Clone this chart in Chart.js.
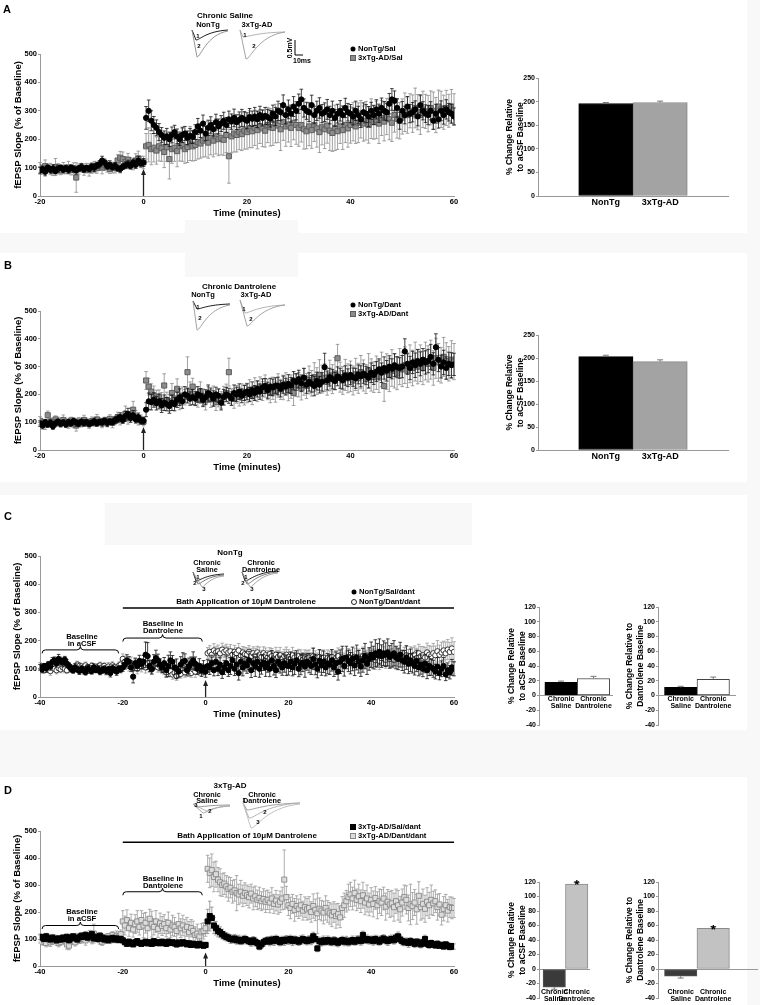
<!DOCTYPE html>
<html>
<head>
<meta charset="utf-8">
<script src="https://cdn.jsdelivr.net/npm/chart.js@4.4.1/dist/chart.umd.min.js"></script>
<style>
  body { margin: 0; background: #fff; }
  #page { position: relative; width: 760px; height: 1005px; overflow: hidden;
          font-family: "Liberation Sans", Arial, sans-serif; font-weight: bold; color: #000; }
  canvas { position: absolute; }
  .t { position: absolute; white-space: nowrap; line-height: 1; }
  .bg { position: absolute; background: #f8f8f8; }
  .mk { position: absolute; box-sizing: border-box; transform: translate(-50%, -50%); }
</style>
</head>
<body>
<div id="page">
  <div class="bg" style="left:747px;top:0;width:13px;height:1005px"></div>
  <div class="bg" style="left:0;top:233px;width:747px;height:20px"></div>
  <div class="bg" style="left:185px;top:220px;width:113px;height:57px"></div>
  <div class="bg" style="left:0;top:482px;width:747px;height:13px"></div>
  <div class="bg" style="left:105px;top:503px;width:367px;height:42px"></div>
  <div class="bg" style="left:0;top:730px;width:747px;height:47px"></div>

  <canvas id="ov" width="760" height="1005" style="left:0;top:0"></canvas>

  <canvas id="cA" width="458" height="218" style="left:14px;top:0px"></canvas>
  <canvas id="cB" width="458" height="242" style="left:14px;top:230px"></canvas>
  <canvas id="cC" width="459" height="219" style="left:13px;top:500px"></canvas>
  <canvas id="cD" width="459" height="208" style="left:13px;top:780px"></canvas>

  <canvas id="bA" width="232" height="152" style="left:500px;top:60px"></canvas>
  <canvas id="bB" width="232" height="149" style="left:500px;top:317px"></canvas>
  <canvas id="bC1" width="116" height="134" style="left:500px;top:597px"></canvas>
  <canvas id="bC2" width="121" height="134" style="left:618px;top:597px"></canvas>
  <canvas id="bD1" width="116" height="132" style="left:500px;top:872px"></canvas>
  <canvas id="bD2" width="143" height="132" style="left:618px;top:872px"></canvas>
</div>
<script>
// sampling: one point every 0.5 min
const stepMin = 0.5;
const startAB = -20;
const startCD = -40;

// ---- Panel A: chronic saline ----
const nonTgSal = [
  90,95,85,100,92,97,88,96,100,93,
  98,92,100,95,90,97,102,94,99,96,
  104,100,108,112,125,118,105,110,102,106,
  98,95,103,108,112,106,118,110,125,115,
  118,
  275,300,265,250,240,225,215,205,210,
  200,215,225,210,200,215,220,205,212,208,
  225,245,230,255,220,240,250,235,260,245,
  255,265,250,270,262,275,260,268,275,270,
  265,278,272,280,270,285,275,282,278,272,
  290,280,300,295,320,285,305,290,315,300,
  325,340,310,300,295,320,285,300,310,290,
  295,305,285,300,275,290,300,285,310,295,
  290,280,300,285,270,295,290,280,300,285,
  305,290,310,300,295,325,340,335,310,265,
  300,285,315,290,295,305,280,320,300,290,
  285,300,265,290,270,300,285,305,295,290,
  280];
const nonTgSalErr = [
  12,10,14,9,11,13,10,12,9,11,
  10,12,9,11,13,10,12,11,9,10,
  12,14,11,13,15,12,11,14,10,12,
  11,13,10,12,14,11,12,13,15,12,
  14,
  40,38,35,30,28,30,26,24,28,
  25,28,24,26,22,27,25,24,26,23,
  26,28,24,30,25,27,29,24,28,26,
  28,30,26,29,27,31,26,28,30,27,
  28,30,27,32,29,31,28,30,27,29,
  30,32,34,30,36,31,33,30,35,32,
  34,36,32,30,33,35,31,34,36,32,
  33,35,31,34,30,33,36,32,34,31,
  32,30,34,31,29,33,32,35,30,33,
  34,31,35,33,30,36,38,35,33,30,
  33,31,35,32,34,30,33,36,32,31,
  34,32,30,33,31,35,32,34,31,33,
  30];
const tgSal = [
  100,92,105,98,95,88,102,96,90,98,
  94,100,92,97,65,95,100,93,98,92,
  96,102,98,105,100,108,104,95,100,98,
  125,135,130,120,128,115,110,125,132,120,
  118,
  175,180,165,170,160,175,168,155,172,
  130,165,170,158,175,180,165,172,185,175,
  180,190,185,195,200,188,205,195,210,200,
  205,198,215,140,210,220,215,225,218,230,
  225,235,228,240,232,245,238,230,250,242,
  240,255,248,235,260,245,252,240,258,250,
  240,250,235,228,245,232,250,238,225,242,
  235,248,230,222,240,228,245,232,250,238,
  250,262,245,258,270,255,265,250,272,260,
  268,255,275,262,280,270,258,285,272,265,
  280,295,285,300,290,310,295,285,305,298,
  290,310,300,285,315,305,295,310,300,315,
  305];
const tgSalErr = [
  18,15,22,14,20,16,30,18,15,20,
  16,22,18,20,52,18,15,20,17,22,
  16,20,18,15,22,18,20,16,19,17,
  20,22,25,18,22,20,18,24,26,20,
  22,
  45,60,55,50,48,52,46,55,50,
  70,50,48,55,52,58,50,54,60,52,
  55,60,52,58,62,55,60,57,62,58,
  60,55,62,95,58,65,60,62,58,65,
  60,65,58,62,66,60,64,58,62,66,
  62,68,60,75,64,70,62,66,60,68,
  65,60,70,62,68,64,58,66,72,62,
  68,62,70,65,80,64,60,68,62,66,
  64,68,60,70,66,62,68,64,70,60,
  66,70,62,68,64,72,66,60,68,64,
  62,68,64,60,66,70,62,68,64,60,
  64,60,66,62,58,64,60,62,58,60,
  55];

// ---- Panel B: chronic dantrolene ----
const nonTgDant = [
  95,88,100,92,98,85,96,102,94,99,
  92,100,96,104,98,95,102,97,100,94,
  98,103,96,101,99,105,97,102,100,108,
  112,118,108,122,130,115,125,110,118,105,
  105,
  145,175,172,180,168,175,160,170,165,
  158,170,165,180,190,175,200,195,185,190,
  185,200,195,180,190,205,198,185,200,195,
  170,190,200,195,185,205,200,210,195,205,
  210,200,215,205,220,210,225,230,215,228,
  225,232,230,220,235,228,238,232,250,245,
  255,240,260,235,245,238,230,248,235,245,
  298,250,262,255,248,265,258,252,268,260,
  270,262,258,272,265,275,268,260,278,270,
  282,290,278,295,285,300,292,305,298,295,
  300,355,310,295,315,305,320,310,325,315,
  320,335,310,370,325,300,315,295,310,305,
  308];
const nonTgDantErr = [
  10,12,9,11,13,10,12,9,11,10,
  11,9,12,10,13,11,9,12,10,11,
  10,12,11,9,13,10,12,11,10,12,
  14,16,12,18,20,15,17,13,15,12,
  12,
  25,30,28,26,24,27,25,28,24,
  26,28,24,27,30,25,28,26,24,27,
  25,28,26,24,27,29,25,28,26,24,
  26,28,25,27,24,29,26,28,25,27,
  28,26,30,27,29,28,31,27,29,30,
  30,28,32,29,31,30,33,29,32,30,
  32,30,34,31,33,30,35,32,30,33,
  50,34,32,35,31,34,36,33,35,32,
  35,33,36,34,38,35,33,37,35,34,
  36,38,35,40,37,39,36,41,38,37,
  40,45,38,42,40,44,41,43,40,42,
  42,45,40,48,43,41,44,40,42,45,
  40];
const tgDant = [
  105,98,92,125,100,95,110,102,96,108,
  100,94,106,98,88,102,96,108,100,94,
  104,98,110,102,96,106,100,112,98,105,
  118,110,112,130,115,125,145,120,108,110,
  102,
  250,228,210,195,185,190,175,232,180,
  170,205,185,220,175,195,190,280,210,228,
  195,182,210,190,178,200,185,195,172,188,
  180,195,205,280,190,185,200,192,208,198,
  205,215,195,220,210,225,212,230,218,205,
  222,210,232,218,225,238,215,228,205,232,
  235,222,245,230,252,240,262,248,270,255,
  260,245,268,255,275,330,262,250,270,258,
  265,250,272,258,280,268,255,285,270,262,
  278,265,290,230,282,270,295,285,275,300,
  290,305,285,310,295,318,300,312,295,320,
  310,325,295,330,315,305,335,320,310,325,
  318];
const tgDantErr = [
  15,12,18,15,14,20,13,16,12,18,
  14,16,12,18,20,15,13,17,14,16,
  15,13,18,14,16,12,17,15,18,14,
  18,20,16,28,22,25,30,22,18,16,
  15,
  32,30,28,35,30,26,32,42,28,
  30,34,28,36,30,32,28,55,35,30,
  32,28,35,30,34,28,32,35,30,33,
  30,34,32,50,30,35,32,34,30,36,
  35,38,32,40,36,38,34,40,37,35,
  40,38,42,36,44,40,38,42,45,40,
  44,42,48,45,50,46,52,48,55,50,
  50,48,55,52,58,50,54,50,56,52,
  55,52,58,54,60,56,52,62,58,55,
  60,58,62,55,64,60,66,62,58,65,
  62,66,60,68,64,70,62,66,60,68,
  65,70,62,72,68,64,70,66,62,68,
  65];

// ---- Panel C: NonTg, bath dantrolene ----
const nonTgSalDant = [
  105,98,110,102,115,108,125,130,120,135,
  128,122,132,118,110,100,95,105,98,92,
  100,95,88,102,98,92,105,96,100,90,
  95,100,92,98,85,102,96,90,100,98,
  105,
  115,130,125,105,72,120,110,128,118,
  125,150,145,110,100,125,138,130,115,105,
  120,95,110,130,125,105,100,90,115,125,
  128,95,110,120,130,118,100,110,95,105,
  90,
  110,105,120,95,125,100,115,88,105,
  120,95,110,130,100,115,85,125,105,118,
  112,130,95,120,108,125,100,115,122,105,
  118,100,130,110,95,125,115,105,120,112,
  110,125,105,118,130,100,115,122,108,125,
  120,110,135,115,100,128,112,125,105,118,
  115,130,105,120,90,125,135,110,140,128,
  120,135,112,140,125,108,130,145,118,135,
  150,140,155,148,160,145,155,150,158,142,
  148,155,140,135,150,130,125,140,118,130,
  120,110,128,105,115,100,118,95,110,105,
  100,90,108,85,100,110,80,95,88,105,
  100];
const nonTgSalDantErr = [
  10,12,9,14,11,13,15,12,14,16,
  13,15,12,14,10,12,11,13,10,12,
  11,13,10,12,14,11,13,10,12,11,
  12,10,13,11,14,12,10,13,11,12,
  14,
  16,20,18,15,22,18,16,20,17,
  22,45,48,20,18,25,28,22,20,18,
  20,24,38,30,22,26,35,20,28,32,
  25,20,28,22,30,24,20,26,22,24,
  20,
  22,25,28,20,30,24,26,22,25,
  26,22,30,28,24,32,25,28,30,26,
  28,32,26,30,35,28,30,34,28,32,
  30,28,35,32,26,34,30,28,32,36,
  32,35,30,38,34,28,36,32,38,30,
  34,30,38,36,32,40,35,38,30,36,
  35,38,32,40,30,42,45,36,40,38,
  38,42,36,44,40,35,42,45,38,40,
  45,40,48,42,46,40,44,42,48,40,
  42,45,40,38,44,36,40,42,35,40,
  35,32,38,30,34,28,32,30,34,28,
  30,26,32,24,28,30,22,26,24,28,
  25];
const nonTgDantDant = [
  110,100,95,105,98,92,108,100,95,102,
  98,105,100,95,110,102,98,105,115,110,
  108,102,112,105,98,110,104,100,108,112,
  105,110,102,108,100,112,105,98,110,115,
  135,
  125,118,110,120,105,115,100,112,108,
  115,105,120,110,98,112,118,105,110,100,
  95,88,100,92,80,85,75,90,82,95,
  88,100,92,85,98,90,105,95,100,92,
  98,
  155,160,150,165,158,162,155,168,160,
  165,158,162,150,160,155,165,148,158,152,
  150,160,145,155,148,158,150,142,155,148,
  140,152,145,138,150,142,148,135,145,150,
  142,135,148,140,130,145,138,132,142,136,
  140,132,145,138,128,142,135,140,130,138,
  135,142,130,138,145,132,140,128,136,142,
  138,130,142,135,140,128,145,132,138,140,
  135,142,130,140,128,138,145,132,140,135,
  140,132,145,138,150,135,142,148,138,145,
  142,150,138,155,145,148,140,158,150,145,
  155,148,162,150,158,165,155,168,160,172,
  160];
const nonTgDantDantErr = [
  12,14,10,13,11,15,12,10,13,11,
  12,10,14,11,13,12,10,14,12,13,
  11,13,12,10,14,12,11,13,10,12,
  13,11,12,14,10,13,12,11,14,12,
  18,
  20,16,18,22,15,20,18,16,19,
  18,20,16,22,18,15,20,17,19,16,
  16,18,15,20,17,19,16,18,15,17,
  18,16,19,15,17,20,16,18,17,15,
  16,
  20,22,18,24,20,22,19,23,21,
  22,20,24,21,23,20,25,22,21,24,
  24,22,26,23,25,22,27,24,23,26,
  25,23,27,24,26,23,28,25,24,27,
  26,24,28,25,27,24,29,26,25,28,
  27,25,29,26,28,25,30,27,26,29,
  28,26,30,27,29,26,31,28,27,30,
  29,27,31,28,30,27,32,29,28,31,
  30,28,32,29,31,28,33,30,29,32,
  31,29,33,30,32,29,34,31,30,33,
  33,31,35,32,34,31,36,33,32,35,
  35,33,38,34,36,33,40,36,34,38,
  36];

// ---- Panel D: 3xTg-AD, bath dantrolene ----
const tgSalDant = [
  108,105,100,110,102,98,105,100,95,102,
  98,105,100,108,96,102,110,104,98,106,
  112,108,115,105,110,118,102,108,100,112,
  105,98,102,95,100,104,98,102,96,100,
  95,
  88,82,90,85,80,88,92,85,82,
  86,90,84,88,82,92,85,88,84,90,
  86,82,90,85,88,84,80,87,83,88,
  85,80,84,78,82,80,76,82,78,75,
  78,
  165,185,178,150,140,130,125,118,112,
  108,105,100,98,102,95,98,92,96,100,
  95,92,88,95,90,85,72,80,88,92,
  95,90,98,92,100,95,88,96,92,98,
  95,100,92,98,94,90,96,100,95,92,
  98,95,110,100,65,92,88,95,90,96,
  92,88,95,90,86,92,96,90,94,88,
  92,96,90,95,98,92,115,96,100,95,
  98,92,100,95,90,98,102,95,92,98,
  100,95,105,110,98,92,88,90,85,92,
  88,82,90,85,80,88,100,82,78,85,
  80,76,82,75,78,72,80,75,70,74,
  72];
const tgSalDantErr = [
  10,12,9,11,13,10,12,9,11,10,
  11,9,12,10,13,11,9,12,10,11,
  12,10,13,11,14,12,10,13,11,12,
  10,12,11,9,13,10,12,11,10,12,
  10,
  9,8,10,9,8,10,9,8,9,
  8,9,10,8,9,8,10,9,8,9,
  9,8,10,9,8,9,10,8,9,8,
  9,8,10,9,8,9,8,10,9,8,
  10,
  45,55,40,30,25,22,20,18,16,
  15,14,16,13,15,14,16,13,15,14,
  14,13,15,14,16,13,12,14,15,13,
  14,15,13,16,14,15,13,14,16,15,
  15,14,16,13,15,14,16,15,13,14,
  14,16,15,14,12,15,14,16,13,15,
  15,13,14,16,15,13,14,15,16,14,
  14,15,13,16,14,15,14,13,15,14,
  13,15,14,16,13,15,14,13,16,14,
  15,14,13,16,14,15,13,14,16,13,
  13,14,12,15,13,12,14,12,13,11,
  11,10,12,10,11,9,10,11,9,10,
  10];
const tgDantDant = [
  100,90,95,85,98,88,92,100,95,85,
  90,100,95,80,75,92,100,88,105,95,
  100,110,95,105,112,98,120,108,102,95,
  90,105,100,110,98,115,105,112,108,118,
  165,
  150,170,140,160,135,155,165,145,170,
  150,160,140,175,155,145,165,138,158,148,
  155,140,160,135,150,145,130,155,140,150,
  135,145,125,140,130,115,120,110,125,130,
  140,
  360,345,355,330,340,320,310,300,305,
  295,285,290,275,280,270,265,275,260,270,
  262,255,268,250,258,245,252,240,248,238,
  245,235,250,230,242,228,238,250,320,255,
  225,215,230,208,222,212,225,205,218,210,
  215,200,222,208,195,212,205,198,215,202,
  195,188,200,185,192,180,215,225,240,255,
  265,250,270,245,258,240,262,235,250,228,
  245,230,252,225,240,235,250,220,238,228,
  232,218,240,225,210,235,255,245,215,228,
  222,235,210,260,218,230,212,238,225,245,
  232,240,218,228,190,212,225,205,218,215,
  215];
const tgDantDantErr = [
  15,12,18,14,10,16,12,15,18,14,
  12,16,14,18,15,12,10,14,16,12,
  15,12,18,14,20,16,35,14,12,15,
  14,12,16,10,15,12,14,18,12,16,
  40,
  35,38,30,32,28,35,40,30,35,
  45,38,42,35,48,30,40,32,38,35,
  35,32,40,30,38,35,32,40,35,38,
  38,35,40,32,36,30,35,28,32,30,
  30,
  50,55,60,55,48,45,50,42,40,
  40,45,38,42,40,65,38,42,40,38,
  38,40,35,42,38,36,40,35,38,40,
  36,38,40,35,38,36,40,42,110,40,
  38,40,35,42,38,36,40,35,38,40,
  42,38,45,40,75,40,38,42,45,40,
  40,42,38,45,40,38,42,45,40,48,
  45,42,48,40,45,42,48,45,50,42,
  45,48,42,50,45,48,42,50,45,48,
  48,52,45,55,48,50,45,52,48,75,
  50,48,55,52,48,55,50,52,48,55,
  45,42,48,40,38,45,40,42,38,40,
  35];

// ---- summary bars ----
const genotypes = ['NonTg', '3xTg-AD'];
const barSal = [196, 198];
const barSalErr = [2, 3];
const barDant = [203, 192];
const barDantErr = [3, 4];
const treatments = [['Chronic', 'Saline'], ['Chronic', 'Dantrolene']];
const nonTgVsAcsf = [18, 23];
const nonTgVsAcsfErr = [1.5, 3];
const nonTgVsDant = [11, 22];
const nonTgVsDantErr = [1.5, 3];
const tgVsAcsf = [-25, 117];
const tgVsAcsfErr = [3, 2.5];
const tgVsDant = [-10, 56];
const tgVsDantErr = [2.5, 2.5];
const tgStars = [false, true];

Chart.defaults.font.family = '"Liberation Sans", Arial, sans-serif';
Chart.defaults.font.weight = 'bold';
Chart.defaults.color = '#000';

const tickFont = { size: 7.5, weight: 'bold', lineHeight: 1 };
const axisFont = { size: 9.5, weight: 'bold', lineHeight: 1 };

function pts(start, vals) {
  return vals.map((v, i) => ({ x: start + i * stepMin, y: v }));
}

function brace(ctx, x1, x2, y) {
  const xm = (x1 + x2) / 2, h = 3.5;
  ctx.beginPath();
  ctx.moveTo(x1, y + h);
  ctx.quadraticCurveTo(x1, y, x1 + h, y);
  ctx.lineTo(xm - h, y);
  ctx.quadraticCurveTo(xm, y, xm, y - h);
  ctx.quadraticCurveTo(xm, y, xm + h, y);
  ctx.lineTo(x2 - h, y);
  ctx.quadraticCurveTo(x2, y, x2, y + h);
  ctx.stroke();
}

// error bars, stimulus arrow, brackets, bath line
const decor = {
  id: 'decor',
  beforeDatasetsDraw(chart, args, o) {
    const ctx = chart.ctx, xs = chart.scales.x, ys = chart.scales.y;
    const x = xs.getPixelForValue(0), y0 = ys.getPixelForValue(0), y1 = ys.getPixelForValue(o.arrowTop);
    ctx.save();
    ctx.strokeStyle = '#222';
    ctx.fillStyle = '#222';
    ctx.lineWidth = 1.3;
    ctx.beginPath(); ctx.moveTo(x, y0); ctx.lineTo(x, y1 + 5); ctx.stroke();
    ctx.beginPath(); ctx.moveTo(x, y1); ctx.lineTo(x - 2.5, y1 + 6); ctx.lineTo(x + 2.5, y1 + 6);
    ctx.closePath(); ctx.fill();
    ctx.restore();
  },
  beforeDatasetDraw(chart, args) {
    const ds = chart.data.datasets[args.index];
    const ctx = chart.ctx, ys = chart.scales.y;
    ctx.save();
    ctx.strokeStyle = ds.errColor;
    ctx.lineWidth = 0.8;
    ctx.beginPath();
    args.meta.data.forEach((p, i) => {
      const v = ds.data[i].y, e = ds.errors[i];
      const hi = ys.getPixelForValue(v + e), lo = ys.getPixelForValue(v - e);
      ctx.moveTo(p.x, hi); ctx.lineTo(p.x, lo);
      ctx.moveTo(p.x - 1.8, hi); ctx.lineTo(p.x + 1.8, hi);
      ctx.moveTo(p.x - 1.8, lo); ctx.lineTo(p.x + 1.8, lo);
    });
    ctx.stroke();
    ctx.restore();
  },
  afterDatasetsDraw(chart, args, o) {
    const ctx = chart.ctx, xs = chart.scales.x, ys = chart.scales.y;
    ctx.save();
    ctx.strokeStyle = '#000';
    if (o.bath) {
      ctx.lineWidth = 1.5;
      ctx.beginPath();
      ctx.moveTo(xs.getPixelForValue(o.bath.from), ys.getPixelForValue(o.bath.at));
      ctx.lineTo(xs.getPixelForValue(o.bath.to), ys.getPixelForValue(o.bath.at));
      ctx.stroke();
    }
    ctx.lineWidth = 1;
    (o.braces || []).forEach(b => {
      brace(ctx, xs.getPixelForValue(b.from), xs.getPixelForValue(b.to), ys.getPixelForValue(b.at));
    });
    ctx.restore();
  }
};

function courseChart(id, xMin, sets, deco) {
  return new Chart(document.getElementById(id), {
    type: 'scatter',
    data: {
      datasets: sets.map(s => ({
        data: pts(xMin, s.vals),
        errors: s.errs,
        errColor: s.errColor,
        pointStyle: s.style,
        pointRadius: s.r,
        pointBackgroundColor: s.fill,
        pointBorderColor: s.line,
        pointBorderWidth: s.bw
      }))
    },
    options: {
      responsive: false,
      animation: false,
      events: [],
      layout: { padding: { top: deco.padTop, right: 18, bottom: 0, left: 0 } },
      plugins: { legend: { display: false }, tooltip: { enabled: false }, decor: deco },
      scales: {
        x: {
          type: 'linear', min: xMin, max: 60,
          afterFit: s => { s.height = 22; },
          grid: { display: false, drawTicks: false },
          border: { color: '#999' },
          ticks: { stepSize: 20, font: tickFont, color: '#000', padding: 2, maxRotation: 0 },
          title: { display: true, text: 'Time (minutes)', font: axisFont, color: '#000', padding: 0 }
        },
        y: {
          min: 0, max: 500,
          afterFit: s => { s.width = deco.yWidth; },
          grid: { drawOnChartArea: false, tickLength: 2, color: '#999' },
          border: { color: '#999' },
          ticks: { stepSize: 100, font: tickFont, color: '#000', padding: 1 },
          title: { display: true, text: 'fEPSP Slope (% of Baseline)', font: axisFont, color: '#000', padding: 0 }
        }
      }
    },
    plugins: [decor]
  });
}

const blackDot = { style: 'circle', r: 2.6, fill: '#000', line: '#000', bw: 1, errColor: '#111' };
const graySq = { style: 'rect', r: 3.6, fill: '#8c8c8c', line: '#5e5e5e', bw: 1, errColor: '#8a8a8a' };
const openDot = { style: 'circle', r: 2.7, fill: '#fff', line: '#222', bw: 0.9, errColor: '#9a9a9a' };
const blackSq = { style: 'rect', r: 3.6, fill: '#000', line: '#000', bw: 1, errColor: '#888' };
const openSq = { style: 'rect', r: 3.6, fill: '#dcdcdc', line: '#888', bw: 0.9, errColor: '#999' };

courseChart('cA', startAB, [
  Object.assign({ vals: nonTgSal, errs: nonTgSalErr }, blackDot),
  Object.assign({ vals: tgSal, errs: tgSalErr }, graySq)
], { padTop: 54, yWidth: 26, arrowTop: 95 });

courseChart('cB', startAB, [
  Object.assign({ vals: nonTgDant, errs: nonTgDantErr }, blackDot),
  Object.assign({ vals: tgDant, errs: tgDantErr }, graySq)
], { padTop: 81, yWidth: 26, arrowTop: 83 });

courseChart('cC', startCD, [
  Object.assign({ vals: nonTgSalDant, errs: nonTgSalDantErr }, blackDot),
  Object.assign({ vals: nonTgDantDant, errs: nonTgDantDantErr }, openDot)
], { padTop: 56, yWidth: 27, arrowTop: 60,
     bath: { from: -20, to: 60, at: 316 },
     braces: [{ from: -39.5, to: -21, at: 167 }, { from: -20, to: -0.8, at: 209 }] });

courseChart('cD', startCD, [
  Object.assign({ vals: tgSalDant, errs: tgSalDantErr }, blackSq),
  Object.assign({ vals: tgDantDant, errs: tgDantDantErr }, openSq)
], { padTop: 51, yWidth: 27, arrowTop: 50,
     bath: { from: -20, to: 60, at: 458 },
     braces: [{ from: -39.5, to: -21, at: 150 }, { from: -20, to: -0.8, at: 275 }] });

// bar error caps and significance stars
const barDecor = {
  id: 'barDecor',
  afterDatasetsDraw(chart) {
    const ctx = chart.ctx, ys = chart.scales.y;
    chart.data.datasets.forEach((ds, di) => {
      chart.getDatasetMeta(di).data.forEach((bar, i) => {
        const v = ds.data[i].y, e = ds.errors[i];
        const tip = ys.getPixelForValue(v + Math.sign(v) * e);
        ctx.save();
        ctx.strokeStyle = '#777';
        ctx.lineWidth = 1;
        ctx.beginPath();
        ctx.moveTo(bar.x, bar.y); ctx.lineTo(bar.x, tip);
        ctx.moveTo(bar.x - 3, tip); ctx.lineTo(bar.x + 3, tip);
        ctx.stroke();
        if (ds.stars[i]) {
          ctx.fillStyle = '#000';
          ctx.font = 'bold 13px "Liberation Sans"';
          ctx.textAlign = 'center';
          ctx.fillText('*', bar.x, tip + 7);
        }
        ctx.restore();
      });
    });
  }
};

function barChart(id, cats, vals, errs, fill, line, o) {
  return new Chart(document.getElementById(id), {
    type: 'bar',
    data: {
      datasets: [{
        data: vals.map((v, i) => ({ x: i + 1, y: v })),
        errors: errs,
        stars: o.stars || [],
        backgroundColor: fill,
        borderColor: line,
        borderWidth: 1,
        borderSkipped: false,
        barPercentage: 1,
        categoryPercentage: 1
      }]
    },
    options: {
      responsive: false,
      animation: false,
      events: [],
      layout: { padding: { top: o.padTop, right: 4, bottom: o.padBottom, left: 0 } },
      plugins: { legend: { display: false }, tooltip: { enabled: false } },
      scales: {
        x: {
          type: 'linear', min: o.xMin, max: o.xMax, offset: false,
          position: o.atZero ? { y: 0 } : 'bottom',
          afterBuildTicks: s => { s.ticks = cats.map((c, i) => ({ value: i + 1 })); },
          afterFit: s => { s.height = 16; },
          grid: { display: false, drawTicks: false, offset: false },
          border: { color: '#999' },
          ticks: { font: o.catFont, color: '#000', padding: o.catPad, maxRotation: 0, autoSkip: false,
                   callback: v => cats[v - 1] }
        },
        y: {
          min: o.yMin, max: o.yMax,
          afterFit: s => { s.width = o.yWidth; },
          grid: { drawOnChartArea: false, tickLength: 2, color: '#999' },
          border: { color: '#999' },
          ticks: { stepSize: o.yStep, font: { size: 7, weight: 'bold' }, color: '#000', padding: 1 },
          title: { display: true, text: o.title, font: { size: 8.5, weight: 'bold', lineHeight: 1.2 },
                   color: '#000', padding: { top: o.titlePad, bottom: 0 } }
        }
      }
    },
    plugins: [barDecor]
  });
}

const bigOpts = { padTop: 18, padBottom: 0, xMin: -0.25, xMax: 3.25, atZero: false, catPad: 1,
                  catFont: { size: 9, weight: 'bold' }, yMin: 0, yMax: 250, yStep: 50, yWidth: 38,
                  titlePad: 5, title: ['% Change Relative', 'to aCSF Baseline'] };
barChart('bA', genotypes, barSal, barSalErr, ['#000', '#a3a3a3'], ['#000', '#8a8a8a'], bigOpts);
barChart('bB', genotypes, barDant, barDantErr, ['#000', '#a3a3a3'], ['#000', '#8a8a8a'], bigOpts);

const smallFont = { size: 7, weight: 'bold', lineHeight: 1 };
const acsfTitle = ['% Change Relative', 'to aCSF Baseline'];
const dantTitle = ['% Change Relative to', 'Dantrolene Baseline'];
barChart('bC1', treatments, nonTgVsAcsf, nonTgVsAcsfErr, ['#000', '#fff'], ['#000', '#444'],
  { padTop: 10, padBottom: 6, xMin: 0.32, xMax: 2.57, atZero: true, catPad: 0, catFont: smallFont,
    yMin: -40, yMax: 120, yStep: 20, yWidth: 39, titlePad: 7, title: acsfTitle });
barChart('bC2', treatments, nonTgVsDant, nonTgVsDantErr, ['#000', '#fff'], ['#000', '#444'],
  { padTop: 10, padBottom: 6, xMin: 0.30, xMax: 2.67, atZero: true, catPad: 0, catFont: smallFont,
    yMin: -40, yMax: 120, yStep: 20, yWidth: 40, titlePad: 7, title: dantTitle });
barChart('bD1', treatments, tgVsAcsf, tgVsAcsfErr, ['#3a3a3a', '#c2c2c2'], ['#555', '#8a8a8a'],
  { padTop: 10, padBottom: 6, xMin: 0.32, xMax: 2.57, atZero: true, catPad: 20, catFont: smallFont,
    yMin: -40, yMax: 120, yStep: 20, yWidth: 39, titlePad: 7, title: acsfTitle, stars: tgStars });
barChart('bD2', treatments, tgVsDant, tgVsDantErr, ['#3a3a3a', '#c2c2c2'], ['#555', '#8a8a8a'],
  { padTop: 10, padBottom: 6, xMin: 0.30, xMax: 3.35, atZero: true, catPad: 20, catFont: smallFont,
    yMin: -40, yMax: 120, yStep: 20, yWidth: 40, titlePad: 7, title: dantTitle, stars: tgStars });

// ---- text labels ----
const page = document.getElementById('page');
function put(str, x, y, size, center) {
  const d = document.createElement('div');
  d.className = 't';
  d.textContent = str;
  d.style.left = x + 'px';
  d.style.top = y + 'px';
  d.style.fontSize = size + 'px';
  d.style.transform = center ? 'translate(-50%,-50%)' : 'translate(0,-50%)';
  page.appendChild(d);
  return d;
}
const labels = [
  ['A', 7, 9, 11], ['B', 8, 265, 11], ['C', 8, 516, 11], ['D', 8, 790, 11],
  ['Chronic Saline', 225, 16, 8], ['NonTg', 208, 25, 7.5], ['3xTg-AD', 257, 25, 7.5],
  ['Chronic Dantrolene', 239, 287, 8], ['NonTg', 203, 295, 7.5], ['3xTg-AD', 256, 295, 7.5],
  ['NonTg', 230, 553, 8], ['Chronic', 207, 563, 7.3], ['Saline', 207, 570, 7.3],
  ['Chronic', 261, 563, 7.3], ['Dantrolene', 261, 570, 7.3],
  ['Bath Application of 10\u03bcM Dantrolene', 246, 602, 8],
  ['Baseline', 82, 637, 7.7], ['in aCSF', 82, 644, 7.7], ['Baseline in', 163, 624, 7.7], ['Dantrolene', 163, 631, 7.7],
  ['3xTg-AD', 230, 786, 8], ['Chronic', 207, 795, 7.3], ['Saline', 207, 801, 7.3],
  ['Chronic', 262, 795, 7.3], ['Dantrolene', 262, 801, 7.3],
  ['Bath Application of 10\u03bcM Dantrolene', 247, 836, 8],
  ['Baseline', 82, 912, 7.7], ['in aCSF', 82, 919, 7.7], ['Baseline in', 163, 879, 7.7], ['Dantrolene', 163, 886, 7.7],
  ['10ms', 302, 60, 7],
  ['1', 198, 36, 6], ['2', 199, 46, 6], ['1', 245, 35, 6], ['2', 254, 46, 6],
  ['1', 198, 307, 6], ['2', 200, 318, 6], ['1', 244, 309, 6], ['2', 251, 319, 6],
  ['1', 198, 577, 6], ['2', 195, 583, 6], ['3', 204, 589, 6],
  ['1', 246, 577, 6], ['2', 243, 583, 6], ['3', 252, 589, 6],
  ['3', 196, 805, 6], ['1', 201, 816, 6], ['2', 210, 811, 6],
  ['1', 244, 800, 6], ['2', 265, 812, 6], ['3', 258, 822, 6]
];
labels.forEach(l => put(l[0], l[1], l[2], l[3], true));
const mv = put('0.5mV', 289, 48, 7, true);
mv.style.transform = 'translate(-50%,-50%) rotate(-90deg)';

const markStyles = {
  dot: 'width:5px;height:5px;border-radius:50%;background:#000',
  sqGray: 'width:6px;height:6px;background:#8c8c8c;border:1px solid #5e5e5e',
  ring: 'width:6px;height:6px;border-radius:50%;background:#fff;border:1px solid #222',
  sqBlack: 'width:6px;height:6px;background:#000',
  sqOpen: 'width:6px;height:6px;background:#dcdcdc;border:1px solid #888'
};
const legendItems = [
  ['dot', 353, 49, 'NonTg/Sal'], ['sqGray', 353, 58, '3xTg-AD/Sal'],
  ['dot', 353, 305, 'NonTg/Dant'], ['sqGray', 353, 314, '3xTg-AD/Dant'],
  ['dot', 354, 592, 'NonTg/Sal/dant'], ['ring', 354, 602, 'NonTg/Dant/dant'],
  ['sqBlack', 353, 827, '3xTg-AD/Sal/dant'], ['sqOpen', 353, 836, '3xTg-AD/Dant/dant']
];
legendItems.forEach(it => {
  const m = document.createElement('div');
  m.className = 'mk';
  m.style.cssText = markStyles[it[0]];
  m.style.left = it[1] + 'px';
  m.style.top = it[2] + 'px';
  page.appendChild(m);
  put(it[3], it[1] + 5, it[2], 7.6, false);
});

// ---- recording inset sketches ----
const ov = document.getElementById('ov').getContext('2d');
function trace(x0, y0, xm, ym, x1, y1, color) {
  const dx = x1 - xm;
  ov.strokeStyle = color;
  ov.lineWidth = 0.9;
  ov.beginPath();
  ov.moveTo(x0, y0);
  ov.lineTo(xm, ym);
  ov.bezierCurveTo(xm + dx * 0.12, ym, xm + dx * 0.3, y1 + (ym - y1) * 0.15, x1, y1);
  ov.stroke();
}
trace(192, 30, 196, 40, 228, 30, '#000');
trace(192, 30, 197, 57, 228, 31, '#888');
trace(240, 30, 243, 37, 285, 32, '#aaa');
trace(240, 30, 246, 59, 285, 32, '#999');
ov.strokeStyle = '#000';
ov.lineWidth = 1;
ov.beginPath(); ov.moveTo(295, 40); ov.lineTo(295, 55); ov.lineTo(303, 55); ov.stroke();

trace(193, 301, 197, 309, 230, 304, '#000');
trace(193, 301, 197, 330, 230, 305, '#999');
trace(240, 300, 245, 313, 285, 305, '#aaa');
trace(240, 300, 247, 326, 285, 305, '#999');

trace(193, 572, 196, 581, 224, 574, '#000');
trace(193, 572, 198, 584, 224, 575, '#666');
trace(193, 572, 202, 587, 224, 576, '#999');
trace(242, 572, 245, 581, 278, 571, '#000');
trace(242, 572, 247, 584, 278, 572, '#666');
trace(242, 572, 250, 587, 278, 573, '#999');

trace(193, 804, 197, 807, 230, 805, '#888');
trace(193, 804, 203, 813, 230, 806, '#999');
trace(193, 804, 206, 811, 230, 806, '#aaa');
trace(243, 803, 247, 810, 300, 803, '#999');
trace(243, 803, 249, 818, 300, 803, '#aaa');
trace(243, 803, 251, 828, 300, 804, '#bbb');
</script>
</body>
</html>
